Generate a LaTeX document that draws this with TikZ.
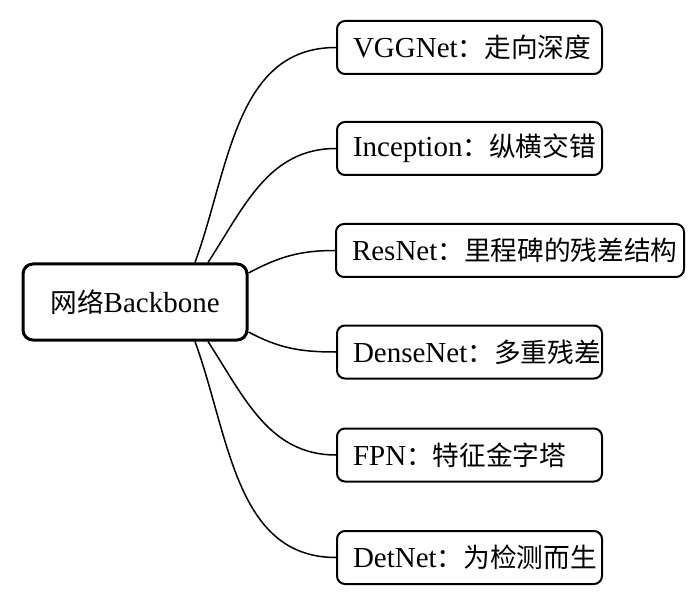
\documentclass[tikz,border=0pt]{standalone}
\usepackage{fontspec}
\setmainfont{Liberation Serif}
\newfontfamily\cjk[Scale=0.92]{Noto Sans CJK SC}

\newlength{\du}
\setlength{\du}{0.5pt}

\tikzset{
  rootbox/.style={draw, line width=1.5pt, rounded corners=5pt,
    minimum width=224\du, minimum height=76\du, inner sep=0pt},
  leafbox/.style={draw, line width=1pt, rounded corners=4pt, anchor=west,
    minimum height=53\du, inner xsep=16\du, inner ysep=0pt,
    align=left, text width=#1},
  leafbox/.default=233\du,
  branch/.style={line width=0.75pt}
}

\begin{document}
\begin{tikzpicture}[font=\fontsize{14.5}{17}\selectfont]
\useasboundingbox (0\du,0\du) rectangle (700\du,-598\du);
% root of the map
\node[rootbox] (root) at (135\du,-302\du) {{\cjk 网络}Backbone};
% the six networks
\node[leafbox] (vgg) at (336\du,-47.5\du) {VGGNet{\cjk ：走向深度}};
\node[leafbox] (incep) at (336\du,-148.5\du) {Inception{\cjk ：纵横交错}};
\node[leafbox=316\du] (resnet) at (335\du,-250.5\du) {ResNet{\cjk ：里程碑的残差结构}};
\node[leafbox] (dense) at (336\du,-352\du) {DenseNet{\cjk ：多重残差}};
\node[leafbox] (fpn) at (336\du,-455\du) {FPN{\cjk ：特征金字塔}};
\node[leafbox] (detnet) at (336\du,-557.5\du) {DetNet{\cjk ：为检测而生}};
% branches
\draw[branch] ([xshift=60\du]root.north) to[out=70,in=180] (vgg.west);
\draw[branch] ([xshift=73\du]root.north) to[out=57,in=180] (incep.west);
\draw[branch] ([yshift=29\du]root.east) to[out=28,in=180] (resnet.west);
\draw[branch] ([yshift=-30\du]root.east) to[out=-28,in=180] (dense.west);
\draw[branch] ([xshift=73\du]root.south) to[out=-57,in=180] (fpn.west);
\draw[branch] ([xshift=60\du]root.south) to[out=-70,in=180] (detnet.west);
\end{tikzpicture}
\end{document}
